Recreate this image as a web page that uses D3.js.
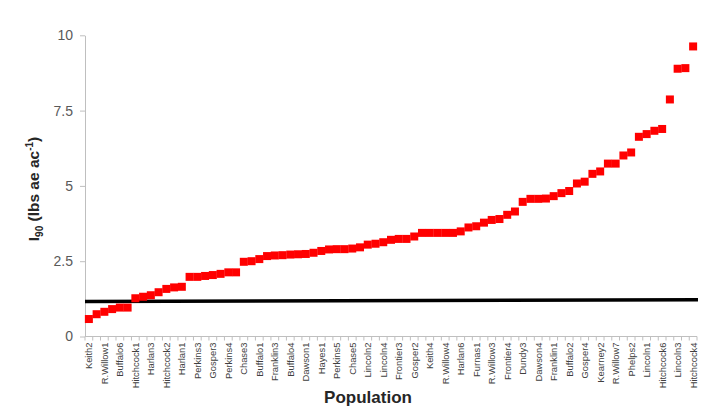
<!DOCTYPE html>
<html><head><meta charset="utf-8">
<script src="https://cdn.jsdelivr.net/npm/d3@7/dist/d3.min.js"></script>
<style>body{margin:0;background:#fff}svg{display:block}</style>
</head><body><svg id="c" width="720" height="410"></svg>
<script>
// labelled populations (every other point)
const labels = ["Keith2","R.Willow1","Buffalo6","Hitchcock1","Harlan3","Hitchcock2","Harlan1","Perkins3","Gosper3","Perkins4",
  "Chase3","Buffalo1","Franklin3","Buffalo4","Dawson1","Hayes1","Perkins5","Chase5","Lincoln2","Lincoln4",
  "Frontier3","Gosper2","Keith4","R.Willow4","Harlan6","Furnas1","R.Willow3","Frontier4","Dundy3","Dawson4",
  "Franklin1","Buffalo2","Gosper4","Kearney2","R.Willow7","Phelps2","Lincoln1","Hitchcock6","Lincoln3","Hitchcock4"];
// I90 values, sorted ascending (79 populations)
const values = [0.58,0.74,0.82,0.91,0.96,0.96,1.27,1.32,1.37,1.47,
  1.58,1.63,1.65,1.98,1.98,2.01,2.04,2.08,2.13,2.13,
  2.48,2.50,2.57,2.67,2.69,2.70,2.72,2.73,2.74,2.78,
  2.84,2.89,2.90,2.90,2.92,2.96,3.05,3.08,3.13,3.21,
  3.24,3.24,3.32,3.44,3.44,3.44,3.44,3.44,3.49,3.62,
  3.66,3.78,3.87,3.90,4.04,4.15,4.47,4.57,4.57,4.58,
  4.66,4.76,4.83,5.08,5.14,5.40,5.48,5.74,5.74,6.01,
  6.11,6.63,6.72,6.83,6.89,7.87,8.89,8.91,9.63];
const yTicks = [0, 2.5, 5, 7.5, 10];
const refLine = [1.16, 1.22]; // threshold line (left, right)

const svg = d3.select("#c");
const x0 = 85, x1 = 697, yTop = 35.3, yBot = 336.5;
const idx = d3.range(values.length);
const x = d3.scaleBand().domain(idx).range([x0, x1]);
const y = d3.scaleLinear().domain([0, 10]).range([yBot, yTop]);
const grey = "#595959";
const font = "Liberation Sans, Arial, sans-serif";

// Y axis
const yAxis = svg.append("g").attr("transform", `translate(${x0},0)`)
  .call(d3.axisLeft(y).tickValues(yTicks).tickFormat(d => d).tickSize(5).tickSizeOuter(0));
yAxis.select(".domain").attr("stroke", "#bfbfbf");
yAxis.selectAll(".tick line").attr("stroke", "#bfbfbf");
yAxis.selectAll("text").attr("fill", grey).attr("font-family", font)
  .attr("font-size", 14).attr("x", -12);

// X axis line and tick marks at category boundaries
const xg = svg.append("g");
xg.append("line").attr("x1", x0).attr("x2", x1).attr("y1", yBot).attr("y2", yBot).attr("stroke", "#bfbfbf");
xg.selectAll("line.t").data(d3.range(values.length + 1)).join("line").attr("class", "t")
  .attr("x1", d => x0 + d * x.bandwidth()).attr("x2", d => x0 + d * x.bandwidth())
  .attr("y1", yBot).attr("y2", yBot + 4).attr("stroke", "#bfbfbf");
xg.selectAll("text").data(labels).join("text")
  .attr("transform", (d, i) => `translate(${x(i * 2) + x.bandwidth() / 2 + 3.5},${yBot + 6}) rotate(-90)`)
  .attr("text-anchor", "end").attr("fill", "#404040")
  .attr("font-family", font).attr("font-size", 9.4)
  .text(d => d);

// Threshold line
svg.append("line")
  .attr("x1", x0).attr("x2", x1 + 1)
  .attr("y1", y(refLine[0])).attr("y2", y(refLine[1]))
  .attr("stroke", "#000").attr("stroke-width", 3.5);

// Points
const s = 8;
svg.append("g").selectAll("rect").data(values).join("rect")
  .attr("x", (d, i) => x(i) + x.bandwidth() / 2 - s / 2)
  .attr("y", d => y(d) - s / 2)
  .attr("width", s).attr("height", s).attr("fill", "#ff0000");

// Axis titles
svg.append("text").attr("x", 368).attr("y", 403).attr("text-anchor", "middle")
  .attr("font-family", font).attr("font-weight", "bold")
  .attr("font-size", 17).attr("fill", "#262626").text("Population");

const yt = svg.append("text").attr("transform", "translate(39,189) rotate(-90)")
  .attr("text-anchor", "middle").attr("font-family", font)
  .attr("font-weight", "bold").attr("font-size", 15.5).attr("fill", "#262626");
yt.append("tspan").text("I");
yt.append("tspan").attr("font-size", 10).attr("dy", 4).text("90");
yt.append("tspan").attr("dy", -4).text(" (lbs ae ac");
yt.append("tspan").attr("font-size", 10).attr("dy", -6).text("-1");
yt.append("tspan").attr("dy", 6).text(")");
</script></body></html>
